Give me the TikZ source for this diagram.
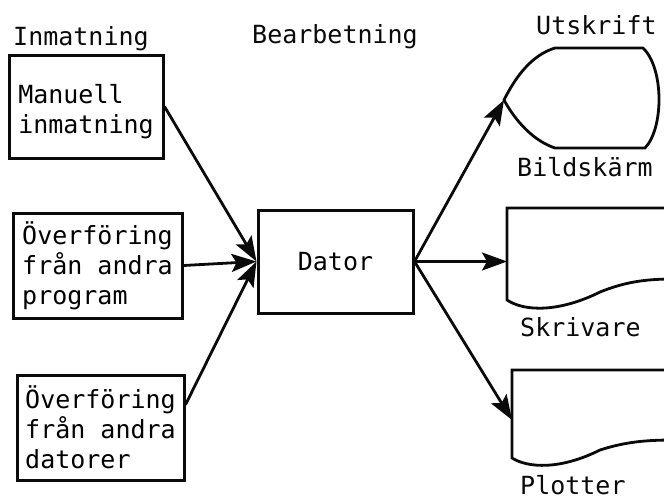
\documentclass[tikz,border=0pt]{standalone}
\usepackage{fontspec}
\newfontfamily\monofnt{DejaVu Sans Mono}
\usepackage{tikz}
\usetikzlibrary{
  arrows.meta,
  positioning
}
\usepackage{xcolor}
\definecolor{inkclr}{RGB}{10, 10, 10}
\tikzset{
  % Rutor (inmatning, dator)
  inbox/.style     = {rectangle, draw=inkclr, line width=3pt, align=left, inner sep=0pt},
  % Pilar
  flowarrow/.style = {-{Stealth[length=25pt,width=18pt,inset=5pt]}, line width=2.8pt, draw=inkclr},
  % Utskriftsymboler
  docshape/.style  = {draw=inkclr, line width=2.8pt},
  % Etiketter
  lab/.style       = {inner sep=0pt, anchor=base west, inkclr},
}
\begin{document}
\begin{tikzpicture}[x=1pt, y=-1pt, font=\monofnt\fontsize{25}{30}\selectfont]
  \clip (0,0) rectangle (664,501);
  % rubriker
  \node[lab] (hIn)  at (13,45)  {Inmatning};
  \node[lab] (hBe)  at (252,43) {Bearbetning};
  \node[lab] (hUt)  at (536,34) {Utskrift};
  % inmatning
  \node[inbox, minimum width=154pt, minimum height=103pt] (manuell) at (86,106.5) {\rule{0pt}{29pt}Manuell\\inmatning};
  \node[inbox, minimum width=169pt, minimum height=105pt] (prog) at (97.5,265.5) {Överföring\\från andra\\program};
  \node[inbox, minimum width=167pt, minimum height=105pt] (dat) at (100.5,427.5) {Överföring\\från andra\\datorer};
  % bearbetning
  \node[inbox, minimum width=155pt, minimum height=103pt] (dator) at (335.5,261.5) {Dator};
  % utskrift: bildskärm
  \draw[docshape] (504,100) .. controls (516,76) and (532,55) .. (555,48) -- (643,48)
    .. controls (664,68) and (664,128) .. (645,148) -- (555,148)
    .. controls (534,141) and (516,122) .. (504,100) -- cycle;
  \coordinate (dispIn) at (504,100);
  \node[lab] (lBild) at (517,176) {Bildskärm};
  % utskrift: skrivare
  \draw[docshape] (674,208) -- (507,208) -- (507,300)
    .. controls (525,312) and (560,312) .. (600,292)
    .. controls (625,282) and (645,279) .. (674,279);
  \coordinate (skrivIn) at (507,261.5);
  \node[lab] (lSkriv) at (520,336) {Skrivare};
  % utskrift: plotter
  \draw[docshape] (674,370) -- (512,370) -- (512,458)
    .. controls (528,468) and (560,470) .. (600,450)
    .. controls (625,442) and (645,440) .. (674,440);
  \coordinate (plotIn) at (512,420);
  \node[lab] (lPlot) at (520,494) {Plotter};
  % pilar
  \draw[flowarrow] (manuell.east) -- (dator.west);
  \draw[flowarrow] (prog.east) -- (dator.west);
  \draw[flowarrow] (dat.15) -- (dator.west);
  \draw[flowarrow] (dator.east) -- (dispIn);
  \draw[flowarrow] (dator.east) -- (skrivIn);
  \draw[flowarrow] (dator.east) -- (plotIn);
\end{tikzpicture}
\end{document}
